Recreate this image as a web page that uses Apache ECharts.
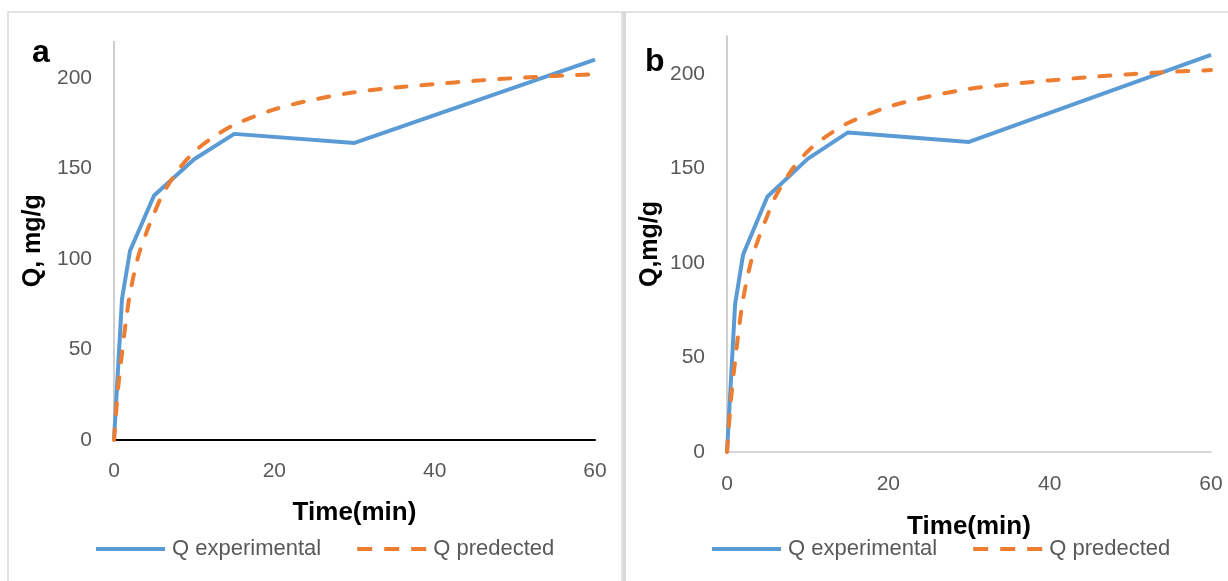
<!DOCTYPE html>
<html>
<head>
<meta charset="utf-8">
<title>Adsorption kinetics</title>
<script src="https://cdn.jsdelivr.net/npm/echarts@6/dist/echarts.min.js"></script>
<style>
  html, body { margin: 0; padding: 0; background: #fff; }
  #chart { width: 1228px; height: 581px; }
</style>
</head>
<body>
<div id="chart"></div>
<script>
// Measured uptake (mg/g) at each sampling time (min)
const timeExp = [0, 1, 2, 5, 10, 15, 30, 60];
const qExperimental = [0, 78, 104.5, 135, 155, 169, 164, 210];

// Model curve sampled along the time range
const timePred = [0, 0.5, 1, 1.5, 2, 3, 4, 5, 6, 8, 10, 12, 15, 20, 25, 30, 35, 40, 45, 50, 55, 60];
const qPredicted = [0, 28, 48, 66, 81, 101, 114, 125, 135, 149, 159, 166, 174, 182.5, 188, 192, 194.5, 196.5, 198.3, 199.8, 201, 202];

const xTicks = [0, 20, 40, 60];
const yTicks = [0, 50, 100, 150, 200];

const seriesNames = ['Q experimental', 'Q predected'];
const panelLetters = ['a', 'b'];
const yTitles = ['Q, mg/g', 'Q,mg/g'];
const xTitle = 'Time(min)';

const BLUE = '#5b9bd5';
const ORANGE = '#ed7d31';
const FONT = '"Liberation Sans", Arial, sans-serif';

// Legend keys: a solid bar and a three-dash bar
const SOLID_ICON = 'path://M0,0h69v4h-69z';
const DASH_ICON = 'path://M0,0h15v4h-15z M27,0h15v4h-15z M54,0h15v4h-15z';

const pairs = (xs, ys) => xs.map((x, i) => [x, ys[i]]);

const panels = [
  { grid: { left: 114, right: 633, top: 41.5, bottom: 141 }, xLine: '#000000', xLineWidth: 2,
    xGap: 60, yGap: 68, xLabelMargin: 21, legendLeft: 91, legendTop: 533 },
  { grid: { left: 727, right: 17, top: 36, bottom: 129 }, xLine: '#c8c8c8', xLineWidth: 1.5,
    xGap: 62, yGap: 64, xLabelMargin: 22, legendLeft: 707, legendTop: 533 }
];

const option = {
  animation: false,
  backgroundColor: '#ffffff',
  grid: panels.map(p => p.grid),
  xAxis: panels.map((p, i) => ({
    type: 'value', gridIndex: i, min: xTicks[0], max: xTicks[xTicks.length - 1], interval: 20,
    name: xTitle, nameLocation: 'middle', nameGap: p.xGap,
    nameTextStyle: { fontFamily: FONT, fontWeight: 'bold', fontSize: 26, color: '#000' },
    axisLine: { show: true, onZero: false, lineStyle: { color: p.xLine, width: p.xLineWidth } },
    axisTick: { show: false },
    splitLine: { show: false },
    axisLabel: { fontFamily: FONT, fontSize: 21, color: '#595959', margin: p.xLabelMargin }
  })),
  yAxis: panels.map((p, i) => ({
    type: 'value', gridIndex: i, min: 0, max: 220, interval: 50,
    name: yTitles[i], nameLocation: 'middle', nameGap: p.yGap,
    nameTextStyle: { fontFamily: FONT, fontWeight: 'bold', fontSize: 25, color: '#000' },
    axisLine: { show: true, lineStyle: { color: '#bfbfbf', width: 1.5 } },
    axisTick: { show: false },
    splitLine: { show: false },
    axisLabel: {
      fontFamily: FONT, fontSize: 21, color: '#595959', margin: 22,
      showMaxLabel: false,
      formatter: v => (yTicks.indexOf(v) >= 0 ? String(v) : '')
    }
  })),
  legend: panels.map(p => ({
    left: p.legendLeft, top: p.legendTop, orient: 'horizontal',
    itemWidth: 69, itemHeight: 4, itemGap: 36,
    data: [
      { name: seriesNames[0], icon: SOLID_ICON },
      { name: seriesNames[1], icon: DASH_ICON }
    ],
    selectedMode: false,
    textStyle: { fontFamily: FONT, fontSize: 22, color: '#595959', padding: [0, 0, 0, 2] }
  })),
  series: panels.flatMap((p, i) => [
    {
      name: seriesNames[0], type: 'line', xAxisIndex: i, yAxisIndex: i,
      data: pairs(timeExp, qExperimental),
      symbol: 'none', color: BLUE,
      lineStyle: { color: BLUE, width: 4, join: 'round' }
    },
    {
      name: seriesNames[1], type: 'line', xAxisIndex: i, yAxisIndex: i,
      data: pairs(timePred, qPredicted),
      symbol: 'none', smooth: 0.3, color: ORANGE,
      lineStyle: { color: ORANGE, width: 4, type: [11, 15], cap: 'round' }
    }
  ]),
  graphic: [
    // panel frames
    { type: 'rect', shape: { x: 8, y: 12, width: 614, height: 600 },
      style: { fill: 'none', stroke: '#d9d9d9', lineWidth: 1.5 }, silent: true },
    { type: 'line', shape: { x1: 622, y1: 12, x2: 1228, y2: 12 },
      style: { stroke: '#d9d9d9', lineWidth: 1.5 }, silent: true },
    { type: 'line', shape: { x1: 624.5, y1: 12, x2: 624.5, y2: 581 },
      style: { stroke: '#d9d9d9', lineWidth: 3 }, silent: true },
    // panel letters
    { type: 'text', left: 32, top: 37,
      style: { text: panelLetters[0], font: 'bold 32px ' + FONT, fill: '#000' } },
    { type: 'text', left: 645, top: 46,
      style: { text: panelLetters[1], font: 'bold 32px ' + FONT, fill: '#000' } }
  ]
};

const chart = echarts.init(document.getElementById('chart'), null, { renderer: 'canvas' });
chart.setOption(option);
</script>
</body>
</html>
